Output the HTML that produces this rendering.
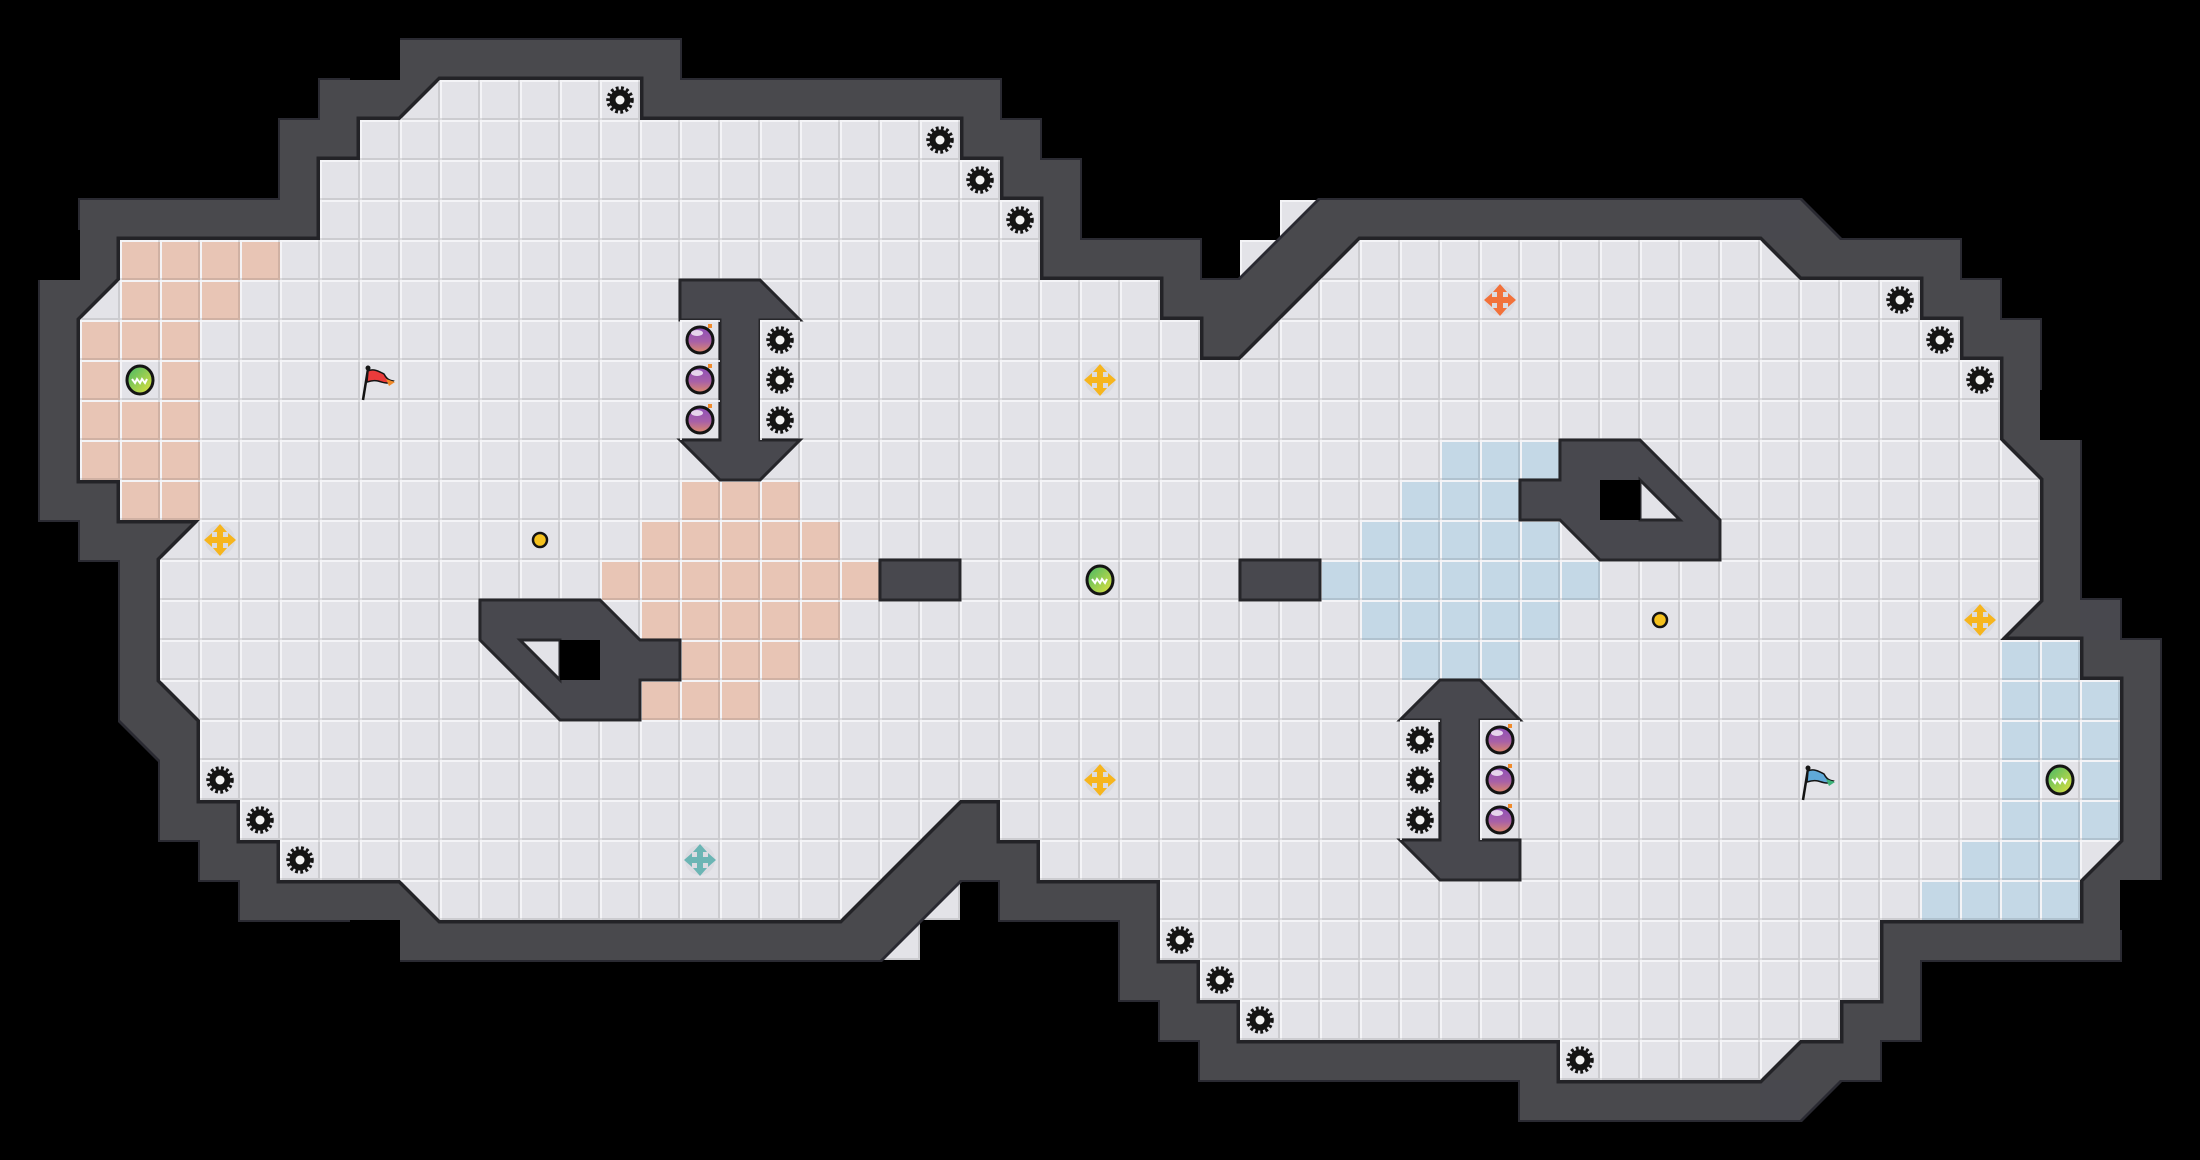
<!DOCTYPE html>
<html><head><meta charset="utf-8"><style>
html,body{margin:0;padding:0;background:#000;}
svg{display:block;}
</style></head><body>
<svg width="2200" height="1160" viewBox="0 0 2200 1160" xmlns="http://www.w3.org/2000/svg">
<defs>
  <pattern id="lines" patternUnits="userSpaceOnUse" width="40" height="40">
    <path d="M0 1H40M1 0V40" stroke="#f4f4f7" stroke-width="2" fill="none"/>
    <path d="M0 39H40M39 0V40" stroke="rgba(0,0,0,0.10)" stroke-width="2" fill="none"/>
  </pattern>
  <filter id="dil40" filterUnits="userSpaceOnUse" x="0" y="0" width="2200" height="1160">
    <feMorphology operator="dilate" radius="40"/>
  </filter>
  <filter id="dil42" filterUnits="userSpaceOnUse" x="0" y="0" width="2200" height="1160">
    <feMorphology operator="dilate" radius="42"/>
  </filter>
  <polygon id="P" points="400,120 440,80 640,80 640,120 960,120 960,160 1000,160 1000,200 1040,200 1040,280 1160,280 1160,320 1200,320 1200,360 1240,360 1360,240 1760,240 1800,280 1920,280 1920,320 1960,320 1960,360 2000,360 2000,440 2040,480 2040,600 2000,640 2080,640 2080,680 2120,680 2120,840 2080,880 2080,920 1880,920 1880,1000 1840,1000 1840,1040 1800,1040 1760,1080 1560,1080 1560,1040 1240,1040 1240,1000 1200,1000 1200,960 1160,960 1160,880 1040,880 1040,840 1000,840 1000,800 960,800 840,920 440,920 400,880 280,880 280,840 240,840 240,800 200,800 200,720 160,680 160,560 200,520 120,520 120,480 80,480 80,320 120,280 120,240 320,240 320,160 360,160 360,120"/>
  <g id="gear">
    <circle r="10.5" fill="#141414"/>
    <circle r="12" fill="none" stroke="#141414" stroke-width="3.5" stroke-dasharray="2.8 2.4"/>
    <circle r="4.5" fill="#f2f2f2"/>
  </g>
  <linearGradient id="bombG" x1="0" y1="0" x2="0" y2="1">
    <stop offset="0" stop-color="#8e4fb8"/>
    <stop offset="0.55" stop-color="#a760a8"/>
    <stop offset="1" stop-color="#e08a68"/>
  </linearGradient>
  <g id="bomb">
    <circle r="13" fill="url(#bombG)" stroke="#141414" stroke-width="3"/>
    <ellipse cx="-3" cy="-7" rx="6" ry="3" fill="#fff" opacity="0.75"/>
    <rect x="8" y="-16" width="4" height="4" fill="#f08a2a"/>
  </g>
  <linearGradient id="ballG" x1="0" y1="0" x2="1" y2="1">
    <stop offset="0" stop-color="#43b868"/>
    <stop offset="1" stop-color="#e5e23c"/>
  </linearGradient>
  <g id="ball">
    <ellipse rx="13" ry="14" fill="url(#ballG)" stroke="#141414" stroke-width="3"/>
    <path d="M-8 -1 L-5 3 L-3 -1 L0 3 L2 -1 L5 3 L7 -1" stroke="#fff" stroke-width="2" fill="none"/>
  </g>
  <g id="cross">
    <circle r="15" fill="#d6d6dc" opacity="0.6"/>
    <path d="M-3 -9H3V-3H9V3H3V9H-3V3H-9V-3H-3Z"/>
    <path d="M0 -16L-7 -8H7Z M0 16L-7 8H7Z M-16 0L-8 -7V7Z M16 0L8 -7V7Z"/>
  </g>
</defs>

<rect width="2200" height="1160" fill="#000"/>

<!-- extra floor cells outside diagonal walls -->
<g fill="#e3e3e8">
  <rect x="1240" y="240" width="40" height="40"/>
  <rect x="1280" y="200" width="40" height="40"/>
  <rect x="920" y="880" width="40" height="40"/>
  <rect x="880" y="920" width="40" height="40"/>
</g>
<g fill="url(#lines)">
  <rect x="1240" y="240" width="40" height="40"/>
  <rect x="1280" y="200" width="40" height="40"/>
  <rect x="920" y="880" width="40" height="40"/>
  <rect x="880" y="920" width="40" height="40"/>
</g>

<!-- walls -->
<use href="#P" fill="#2c2c31" filter="url(#dil42)"/>
<use href="#P" fill="#48484e" filter="url(#dil40)"/>
<!-- corner corrections -->
<g fill="#48484e">
  <rect x="1760" y="200" width="40" height="40"/>
  <rect x="2080" y="600" width="40" height="40"/>
  <rect x="1760" y="1080" width="40" height="40"/>
</g>
<g fill="#000">
  <rect x="350" y="30" width="50" height="50"/>
  <rect x="30" y="230" width="50" height="50"/>
  <rect x="350" y="920" width="50" height="50"/>
  <rect x="2040" y="390" width="50" height="50"/>
  <rect x="2120" y="880" width="50" height="50"/>
</g>
<use href="#P" fill="none" stroke="#232327" stroke-width="7" stroke-linejoin="miter"/>
<use href="#P" fill="#e3e3e8"/>

<!-- colored cells -->
<g fill="#e8c5b5">
  <rect x="120" y="240" width="160" height="40"/>
  <rect x="120" y="280" width="120" height="40"/>
  <rect x="80" y="320" width="120" height="40"/>
  <rect x="80" y="360" width="40" height="40"/>
  <rect x="160" y="360" width="40" height="40"/>
  <rect x="80" y="400" width="120" height="40"/>
  <rect x="80" y="440" width="120" height="40"/>
  <rect x="120" y="480" width="80" height="40"/>
  <rect x="680" y="480" width="120" height="40"/>
  <rect x="640" y="520" width="200" height="40"/>
  <rect x="600" y="560" width="280" height="40"/>
  <rect x="640" y="600" width="200" height="40"/>
  <rect x="680" y="640" width="120" height="40"/>
  <rect x="640" y="680" width="120" height="40"/>
</g>
<g fill="#c4d8e6">
  <rect x="1440" y="440" width="120" height="40"/>
  <rect x="1400" y="480" width="120" height="40"/>
  <rect x="1360" y="520" width="200" height="40"/>
  <rect x="1320" y="560" width="280" height="40"/>
  <rect x="1360" y="600" width="200" height="40"/>
  <rect x="1400" y="640" width="120" height="40"/>
  <rect x="2000" y="640" width="80" height="40"/>
  <rect x="2000" y="680" width="120" height="40"/>
  <rect x="2000" y="720" width="120" height="40"/>
  <rect x="2000" y="760" width="40" height="40"/>
  <rect x="2080" y="760" width="40" height="40"/>
  <rect x="2000" y="800" width="120" height="40"/>
  <rect x="1960" y="840" width="120" height="40"/>
  <rect x="1920" y="880" width="160" height="40"/>
</g>
<use href="#P" fill="url(#lines)"/>

<!-- obstacles -->
<g fill="#48484e" stroke="#26262a" stroke-width="3" stroke-linejoin="miter">
  <polygon points="680,280 760,280 800,320 760,320 760,440 800,440 760,480 720,480 680,440 720,440 720,320 680,320"/>
  <rect x="880" y="560" width="80" height="40"/>
  <rect x="1240" y="560" width="80" height="40"/>
  <polygon points="480,600 600,600 640,640 680,640 680,680 640,680 640,720 560,720 480,640"/>
  <polygon points="1560,440 1640,440 1720,520 1720,560 1600,560 1560,520 1520,520 1520,480 1560,480"/>
  <polygon points="1440,680 1480,680 1520,720 1480,720 1480,840 1520,840 1520,880 1440,880 1400,840 1440,840 1440,720 1400,720"/>
</g>
<!-- holes -->
<polygon points="520,640 560,640 560,680" fill="#e3e3e8" stroke="#26262a" stroke-width="3"/>
<rect x="560" y="640" width="40" height="40" fill="#000"/>
<polygon points="1640,480 1680,520 1640,520" fill="#e3e3e8" stroke="#26262a" stroke-width="3"/>
<rect x="1600" y="480" width="40" height="40" fill="#000"/>
<!-- floor visible beside T stems -->
<rect x="682" y="322" width="36" height="116" fill="#e3e3e8"/>
<rect x="762" y="322" width="36" height="116" fill="#e3e3e8"/>
<rect x="1402" y="722" width="36" height="116" fill="#e3e3e8"/>
<rect x="1482" y="722" width="36" height="116" fill="#e3e3e8"/>
<g fill="url(#lines)">
  <rect x="680" y="320" width="40" height="120"/>
  <rect x="760" y="320" width="40" height="120"/>
  <rect x="1400" y="720" width="40" height="120"/>
  <rect x="1480" y="720" width="40" height="120"/>
</g>

<!-- gears -->
<g>
  <use href="#gear" x="620" y="100"/>
  <use href="#gear" x="940" y="140"/>
  <use href="#gear" x="980" y="180"/>
  <use href="#gear" x="1020" y="220"/>
  <use href="#gear" x="780" y="340"/>
  <use href="#gear" x="780" y="380"/>
  <use href="#gear" x="780" y="420"/>
  <use href="#gear" x="220" y="780"/>
  <use href="#gear" x="260" y="820"/>
  <use href="#gear" x="300" y="860"/>
  <use href="#gear" x="1180" y="940"/>
  <use href="#gear" x="1220" y="980"/>
  <use href="#gear" x="1260" y="1020"/>
  <use href="#gear" x="1580" y="1060"/>
  <use href="#gear" x="1420" y="740"/>
  <use href="#gear" x="1420" y="780"/>
  <use href="#gear" x="1420" y="820"/>
  <use href="#gear" x="1900" y="300"/>
  <use href="#gear" x="1940" y="340"/>
  <use href="#gear" x="1980" y="380"/>
</g>
<!-- bombs -->
<use href="#bomb" x="700" y="340"/>
<use href="#bomb" x="700" y="380"/>
<use href="#bomb" x="700" y="420"/>
<use href="#bomb" x="1500" y="740"/>
<use href="#bomb" x="1500" y="780"/>
<use href="#bomb" x="1500" y="820"/>
<!-- balls -->
<use href="#ball" x="140" y="380"/>
<use href="#ball" x="1100" y="580"/>
<use href="#ball" x="2060" y="780"/>
<!-- crosses -->
<g fill="#f6b51e">
  <use href="#cross" x="220" y="540"/>
  <use href="#cross" x="1100" y="380"/>
  <use href="#cross" x="1100" y="780"/>
  <use href="#cross" x="1980" y="620"/>
</g>
<g fill="#f2713a"><use href="#cross" x="1500" y="300"/></g>
<g fill="#6bb5b4"><use href="#cross" x="700" y="860"/></g>
<!-- gold dots -->
<circle cx="540" cy="540" r="7" fill="#f5c21e" stroke="#141414" stroke-width="2.5"/>
<circle cx="1660" cy="620" r="7" fill="#f5c21e" stroke="#141414" stroke-width="2.5"/>
<!-- flags -->
<g transform="translate(380,380)">
  <path d="M-17 20 L-12 -11" stroke="#141414" stroke-width="2.5"/>
  <circle cx="-12" cy="-12" r="2.5" fill="#141414"/>
  <path d="M-12 -9 C-6 -12 0 -8 4 -6 C6 -2 8 0 13 1 C8 5 2 2 -2 1 C-6 0 -10 1 -13 2 Z" fill="#ea3b3b" stroke="#141414" stroke-width="1.5"/>
  <path d="M6 -1 L15 2 L9 6 Z" fill="#f08a2a"/>
</g>
<g transform="translate(1820,780)">
  <path d="M-17 20 L-12 -11" stroke="#141414" stroke-width="2.5"/>
  <circle cx="-12" cy="-12" r="2.5" fill="#141414"/>
  <path d="M-12 -9 C-6 -12 0 -8 4 -6 C6 -2 8 0 13 1 C8 5 2 2 -2 1 C-6 0 -10 1 -13 2 Z" fill="#5fa9d8" stroke="#141414" stroke-width="1.5"/>
  <path d="M6 -1 L15 2 L9 6 Z" fill="#3fb37a"/>
</g>
</svg>
</body></html>
